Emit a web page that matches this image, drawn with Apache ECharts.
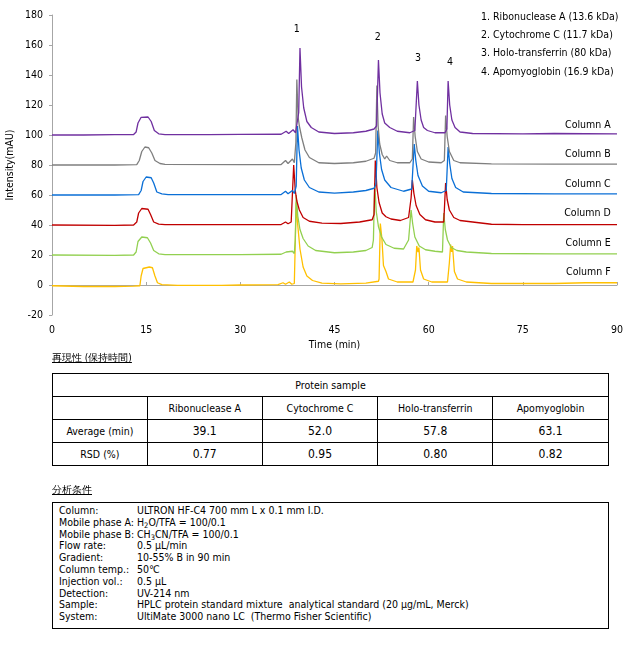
<!DOCTYPE html>
<html>
<head>
<meta charset="utf-8">
<script src="https://cdn.jsdelivr.net/npm/echarts@6/dist/echarts.min.js"></script>
<style>
  html, body { margin: 0; padding: 0; background: #fff; }
  body { width: 630px; height: 648px; position: relative; overflow: hidden;
         font-family: "DejaVu Sans Condensed", "DejaVu Sans", sans-serif; color: #000; }
  #chart { position: absolute; left: 0; top: 0; width: 630px; height: 356px; }
  .title { position: absolute; left: 52px; font-size: 10px; text-decoration: underline; }
  table { position: absolute; left: 52px; top: 373px; width: 557px; border-collapse: collapse;
          border: 1.5px solid #000; font-size: 10.5px; }
  td { border: 1px solid #000; text-align: center; padding: 0; height: 22px; }
  td.num { font-size: 12px; }
  #cond { position: absolute; left: 52px; top: 502px; width: 555px; height: 125px;
          border: 1.5px solid #000; font-size: 10.5px; line-height: 11.8px; }
  #cond .row { position: relative; height: 11.8px; white-space: nowrap; }
  #cond .k { position: absolute; left: 6px; }
  #cond .v { position: absolute; left: 84px; }
  #cond sub { font-size: 7.5px; line-height: 0; vertical-align: baseline; position: relative; top: 2px; }
</style>
</head>
<body>
<div id="chart"></div>
<div class="title" style="top:351px;">再現性 (保持時間)</div>
<table id="tbl"></table>
<div class="title" style="top:483px;">分析条件</div>
<div id="cond"></div>
<script>
// ---------- data ----------
const xTicks = [0, 15, 30, 45, 60, 75, 90];
const seriesNames = ['Column A', 'Column B', 'Column C', 'Column D', 'Column E', 'Column F'];
const seriesColors = ['#7030a0', '#7f7f7f', '#0a6fd6', '#c00000', '#92d050', '#ffc000'];
const labelValues = [106.7, 87.3, 67.3, 48, 28, 8.7];

const colA = [[0,100],[5,100],[10,100.2],[13,100.3],[13.4,102],[13.7,108],[14.2,111.8],[15.3,112],[15.8,109],[16.3,103],[17,100.8],[18,100.3],[25,100.2],[30,100.4],[36.5,100.5],[37.3,102.5],[37.7,101],[38.4,103.5],[38.8,101.5],
  [39.1,102],[39.3,115],[39.5,158],[39.75,132],[40.1,118],[40.6,109],[41.3,105],[42.5,102],[45,101],[48,101.5],[50,102.5],[51.3,104],[51.7,106],
  [52.0,150],[52.25,128],[52.6,114],[53.0,108],[53.3,108],[53.8,105],[55,102.5],[57,101.5],[57.8,103],
  [58.2,136],[58.45,120],[58.8,110],[59.2,105],[59.4,106],[59.8,103],[61,101.5],[62.6,101.5],[62.9,104],
  [63.1,136],[63.35,120],[63.7,110],[64.2,105],[65,102],[67,101],[75,100.8],[80,101],[90,100.8]];
const colB = [[0,80],[10,80],[13.5,80.3],[13.9,83],[14.3,89],[14.8,92],[15.4,91.5],[15.9,88],[16.4,83],[17.2,81],[18,80.4],[30,80.3],[36.5,80.3],[37.2,83],[37.6,81],[38.3,84],[38.6,81.5],
  [38.85,95],[39.0,137],[39.2,112],[39.4,106],[39.8,98],[40.3,90],[41,85],[42.5,81.5],[45,81],[48,81.5],[50,82.5],[51.3,84.5],[51.55,88],
  [51.75,133],[51.95,106],[52.2,94],[52.6,87],[53,84],[53.3,86],[53.8,83],[55,81.5],[57,81.5],[57.4,84],
  [57.6,112],[57.85,99],[58.2,89],[58.8,84],[60,82],[62,81.5],[62.5,83],
  [62.7,113],[62.95,99],[63.3,89],[64,83],[65,81.5],[70,80.8],[80,80.6],[90,80.6]];
const colC = [[0,60],[10,60],[13.8,60.3],[14.2,63],[14.5,69],[15,72],[15.8,71.5],[16.2,68],[16.7,62],[17.5,60.8],[18.5,60.3],[30,60.2],[36.5,60.3],[37.2,62.5],[37.6,60.8],[38.3,63],[38.6,61],
  [38.9,66],[39.1,106],[39.35,90],[39.7,78],[40.2,70],[41,65],[42.5,62],[45,61.2],[48,62],[50,63],[51.3,64.5],[51.6,67],
  [51.9,103],[52.15,88],[52.5,77],[53,70],[53.4,68],[54,65],[56,62.5],[57.3,64],
  [57.7,94],[57.95,83],[58.3,73],[59,66],[60,62.5],[62,61.5],[62.8,63],
  [63.1,92],[63.35,81],[63.7,71],[64.3,65],[65.5,62],[70,61],[80,60.8],[90,60.8]];
const colD = [[0,40],[10,39.8],[13,40],[13.5,42],[13.8,48],[14.3,51],[15.3,50.5],[15.7,47],[16.2,42],[17,40.6],[18,40.2],[30,40.2],[36.5,40.3],[37.2,42],[37.6,40.8],[38.1,42],[38.3,40.8],
  [38.5,80],[38.75,63],[39,56],[39.4,50],[40,45],[41,42.5],[43,41.2],[46,41],[49,42],[51,43.5],[51.3,47],
  [51.5,83],[51.75,65],[52.1,55],[52.6,48],[53.2,45.5],[54,44],[55.5,43],[56.8,45],[57.2,58],
  [57.4,70],[57.65,61],[58,53],[58.6,47],[59.5,43.5],[61,42],[62.4,42],[62.5,50],
  [62.7,68],[62.95,57],[63.3,50],[64,45],[65,43],[67,42],[70,40.5],[75,40.3],[90,40.3]];
const colE = [[0,20],[10,19.8],[13,20],[13.4,22],[13.7,29],[14.3,32],[15.2,31.5],[15.7,28],[16.2,23],[17,20.8],[18,20.3],[30,20.3],[36.5,20.5],[37.3,22],[37.6,20.8],[38.3,22.5],[38.6,21],
  [38.75,30],[38.9,60],[39.15,46],[39.5,37],[40,31],[40.8,26],[42,23],[45,21.5],[48,22],[50,23],[51,25],[51.2,30],
  [51.4,68],[51.65,49],[52,39],[52.5,32],[53.2,27],[54.5,24.5],[56,24],[56.8,30],
  [57.2,50],[57.45,41],[57.8,32],[58.5,26],[59.5,23.5],[61,22.5],[62.2,22],
  [62.4,48],[62.65,37],[63,30],[63.6,25],[64.5,23],[66,22],[70,21],[80,20.8],[90,20.8]];
const colF = [[0,-0.5],[5,-1],[10,-1],[13,-0.8],[14,-0.5],[14.2,6],[14.5,11],[15.5,12],[16,11.5],[16.4,6],[16.8,1.5],[17.5,0.2],[20,-0.3],[25,-0.3],[27,-0.2],[30,0],[36,0.3],[36.8,1.5],[37.2,0.5],[37.8,2],[38.2,0.5],[38.6,1],
  [38.9,55],[39.1,42],[39.5,24],[40,12],[40.6,6],[41.5,3],[43,1.2],[46,0.8],[50,1.2],[52,2.5],[52.1,4],
  [52.3,41],[52.55,31],[52.8,13],[53.2,9],[53.6,4],[55,2],[57.5,2],[57.9,10],
  [58.1,26],[58.3,22],[58.45,25],[58.7,10],[59.2,4],[60.5,2],[63,2],[63.3,15],
  [63.5,27],[63.65,22],[63.8,26],[64.1,9],[64.6,4],[66,2],[70,1],[80,1],[85,1.5],[90,1.5]];
const columns = [colA, colB, colC, colD, colE, colF];

const peakLabels = ['1', '2', '3', '4'];
const peakLabelPos = [[39.0, 170.7], [51.9, 165], [58.3, 151], [63.4, 148.7]];
const legendLines = ['1. Ribonuclease A (13.6 kDa)', '2. Cytochrome C (11.7 kDa)', '3. Holo-transferrin (80 kDa)', '4. Apomyoglobin (16.9 kDa)'];

const proteins = ['Ribonuclease A', 'Cytochrome C', 'Holo-transferrin', 'Apomyoglobin'];
const averages = ['39.1', '52.0', '57.8', '63.1'];
const rsds = ['0.77', '0.95', '0.80', '0.82'];

const condKeys = ['Column:', 'Mobile phase A:', 'Mobile phase B:', 'Flow rate:', 'Gradient:', 'Column temp.:', 'Injection vol.:', 'Detection:', 'Sample:', 'System:'];
const condVals = ['ULTRON HF-C4 700 mm L x 0.1 mm I.D.', 'H<sub>2</sub>O/TFA = 100/0.1', 'CH<sub>3</sub>CN/TFA = 100/0.1', '0.5 µL/min', '10-55% B in 90 min', '50℃', '0.5 µL', 'UV-214 nm', 'HPLC protein standard mixture &nbsp;analytical standard (20 µg/mL, Merck)', 'UltiMate 3000 nano LC &nbsp;(Thermo Fisher Scientific)'];

// ---------- chart ----------
const FONT = '"DejaVu Sans Condensed", "DejaVu Sans", sans-serif';
const chart = echarts.init(document.getElementById('chart'), null, { renderer: 'canvas' });
const series = [];
for (let i = columns.length - 1; i >= 0; i--) {
  series.push({
    name: seriesNames[i], type: 'line', data: columns[i], showSymbol: false, symbol: 'none',
    lineStyle: { width: 1.3, color: seriesColors[i] }, itemStyle: { color: seriesColors[i] },
    silent: true, z: 10 + (columns.length - i)
  });
}
chart.setOption({
  animation: false,
  textStyle: { fontFamily: FONT },
  grid: { left: 52, right: 13, top: 15, bottom: 41, containLabel: false, outerBoundsMode: 'none' },
  xAxis: {
    type: 'value', min: 0, max: 90, interval: 15,
    name: 'Time (min)', nameLocation: 'middle', nameGap: 25, nameMoveOverlap: false,
    nameTextStyle: { fontSize: 10.5, color: '#000', fontFamily: FONT },
    axisLine: { lineStyle: { color: '#a6a6a6', width: 1 } },
    axisTick: { show: true, inside: true, length: 3, lineStyle: { color: '#a6a6a6' } },
    axisLabel: { fontSize: 10.5, color: '#000', margin: 10, fontFamily: FONT },
    splitLine: { show: false }
  },
  yAxis: {
    type: 'value', min: -20, max: 180, interval: 20,
    name: 'Intensity(mAU)', nameLocation: 'middle', nameGap: 36, nameRotate: 90, nameMoveOverlap: false,
    nameTextStyle: { fontSize: 10.5, color: '#000', fontFamily: FONT },
    axisLine: { show: true, lineStyle: { color: '#a6a6a6', width: 1 } },
    axisTick: { show: true, inside: false, length: 3, lineStyle: { color: '#a6a6a6' } },
    axisLabel: { fontSize: 10.5, color: '#000', margin: 9, fontFamily: FONT },
    splitLine: { show: false }
  },
  series: series
});

const graphics = [];
seriesNames.forEach((n, i) => {
  const p = chart.convertToPixel({ gridIndex: 0 }, [89, labelValues[i]]);
  graphics.push({ type: 'text', x: p[0], y: p[1], style: { text: n, fontSize: 10.5, fontFamily: FONT, fill: '#000', align: 'right', verticalAlign: 'middle' } });
});
peakLabels.forEach((t, i) => {
  const p = chart.convertToPixel({ gridIndex: 0 }, peakLabelPos[i]);
  graphics.push({ type: 'text', x: p[0], y: p[1], style: { text: t, fontSize: 10.5, fontFamily: FONT, fill: '#000', align: 'center', verticalAlign: 'middle' } });
});
legendLines.forEach((t, i) => {
  graphics.push({ type: 'text', x: 481, y: 17 + i * 18.3, style: { text: t, fontSize: 10.5, fontFamily: FONT, fill: '#000', align: 'left', verticalAlign: 'middle' } });
});
chart.setOption({ graphic: graphics });

// ---------- table ----------
const tbl = document.getElementById('tbl');
let html = '<colgroup><col style="width:95px"><col style="width:115px"><col style="width:116px"><col style="width:115px"><col style="width:116px"></colgroup>';
html += '<tr><td colspan="5">Protein sample</td></tr>';
html += '<tr><td></td>' + proteins.map(p => '<td>' + p + '</td>').join('') + '</tr>';
html += '<tr><td>Average (min)</td>' + averages.map(v => '<td class="num">' + v + '</td>').join('') + '</tr>';
html += '<tr><td>RSD (%)</td>' + rsds.map(v => '<td class="num">' + v + '</td>').join('') + '</tr>';
tbl.innerHTML = html;

// ---------- conditions ----------
const cond = document.getElementById('cond');
let ch = '<div style="height:2px"></div>';
condKeys.forEach((k, i) => {
  ch += '<div class="row"><span class="k">' + k + '</span><span class="v">' + condVals[i] + '</span></div>';
});
cond.innerHTML = ch;
</script>
</body>
</html>
